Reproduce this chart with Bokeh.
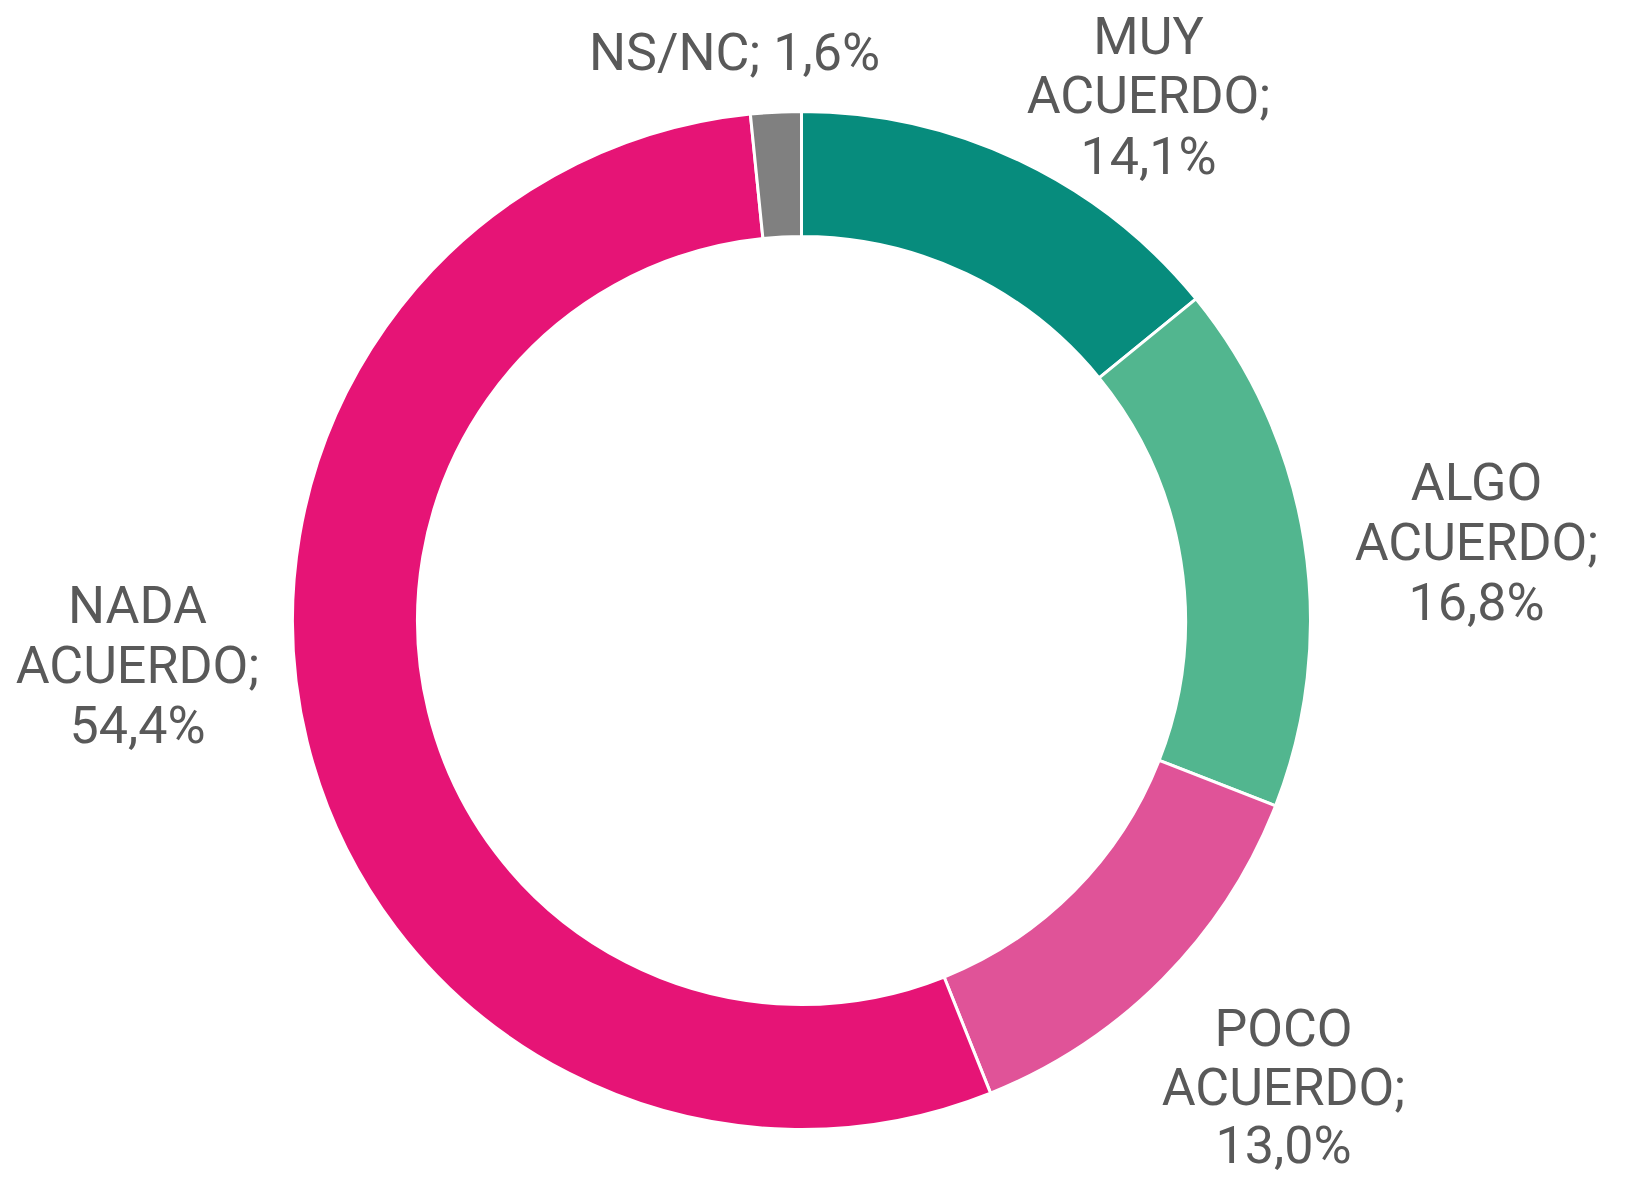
import math
from bokeh.plotting import figure
from bokeh.models import Range1d, ColumnDataSource
from bokeh.core.properties import value
from bokeh.embed import file_html
from bokeh.resources import INLINE

categories = ["MUY ACUERDO", "ALGO ACUERDO", "POCO ACUERDO", "NADA ACUERDO", "NS/NC"]
values = [14.1, 16.8, 13.0, 54.4, 1.6]
colors = ["#078C7D", "#52B68F", "#E05398", "#E61476", "#808080"]

W, H = 1619, 1177
p = figure(width=W, height=H, output_backend="svg", toolbar_location=None,
           x_range=Range1d(0, W), y_range=Range1d(-H, 0), min_border=0)
p.axis.visible = False
p.grid.visible = False
p.outline_line_color = None
p.background_fill_color = "white"

cx, cy = 801, -620
r_out, r_in = 509, 384

total = sum(values)
starts, ends = [], []
acc = 0.0
for v in values:
    a0 = math.pi / 2 - 2 * math.pi * acc / total
    acc += v
    a1 = math.pi / 2 - 2 * math.pi * acc / total
    starts.append(a0)
    ends.append(a1)

src = ColumnDataSource(dict(start=starts, end=ends, color=colors, cat=categories, val=values))
p.annular_wedge(x=cx, y=cy, inner_radius=r_in, outer_radius=r_out,
                start_angle="start", end_angle="end", direction="clock",
                fill_color="color", line_color="white", line_width=3, source=src)

def fmt(v):
    return f"{v:.1f}".replace(".", ",") + "%"

# label anchor positions (layout)
label_pos = {
    "MUY ACUERDO": (1148, [36, 95, 156]),
    "ALGO ACUERDO": (1476, [482, 542, 602]),
    "POCO ACUERDO": (1283, [1028, 1087, 1145]),
    "NADA ACUERDO": (137, [605, 665, 725]),
}
xs, ys, ts = [], [], []
for c, v in zip(categories, values):
    if c == "NS/NC":
        xs.append(734); ys.append(-52); ts.append(f"{c}; {fmt(v)}")
    else:
        x, yl = label_pos[c]
        w1, w2 = c.split(" ")
        for t, y in zip([w1, w2 + ";", fmt(v)], yl):
            xs.append(x); ys.append(-y); ts.append(t)

p.text(x=xs, y=ys, text=ts, text_font=value("Roboto"), text_font_size="52px",
       text_color="#595959", text_align="center", text_baseline="middle")

open("out.html", "w").write(file_html(p, INLINE))
